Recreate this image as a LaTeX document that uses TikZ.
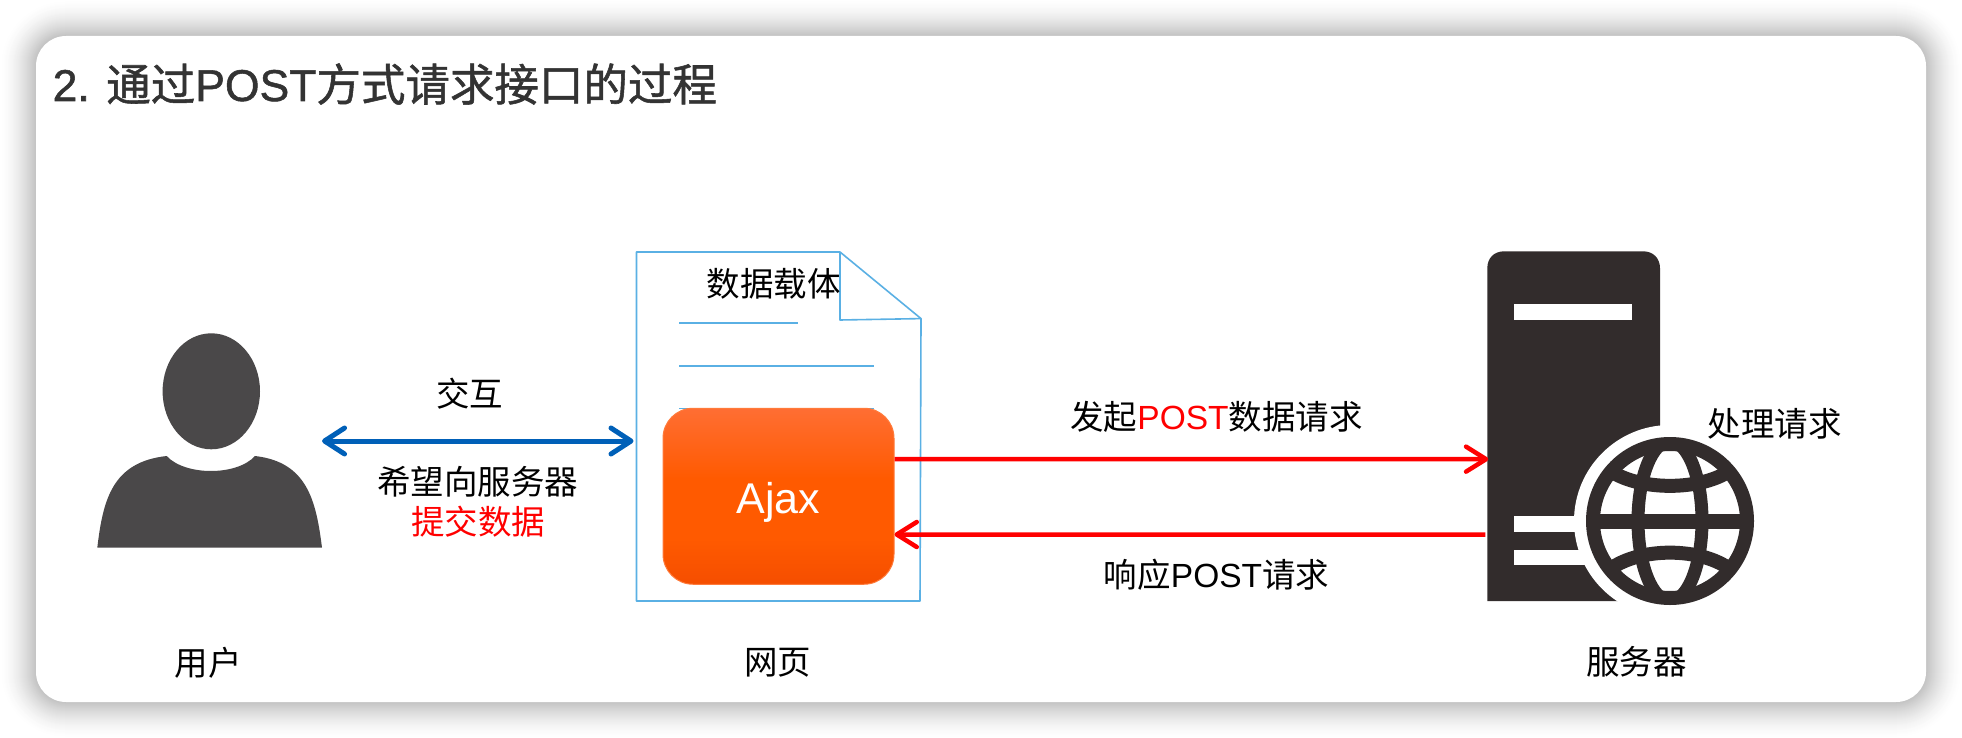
\documentclass[tikz,border=0pt]{standalone}
\usepackage{fontspec}
\setmainfont{Liberation Sans}
\newfontfamily\cjk{Noto Sans CJK SC}
\newfontfamily\cjkb[FakeBold=1.2]{Noto Sans CJK SC}
\newfontfamily\latb[FakeBold=1.2]{Liberation Sans}
\newcommand{\lat}[1]{{\rmfamily #1}}
\usetikzlibrary{arrows.meta}
\definecolor{titlec}{HTML}{333333}
\definecolor{personc}{HTML}{4A4849}
\definecolor{serverc}{HTML}{322C2C}
\definecolor{docc}{HTML}{5AB0E4}
\definecolor{bluea}{HTML}{0060B8}
\definecolor{reda}{HTML}{FF0000}
\definecolor{ajtop}{HTML}{FF6E33}
\definecolor{ajmid}{HTML}{FF5A00}
\definecolor{ajbot}{HTML}{F54E00}
\definecolor{ajedge}{HTML}{FF7A3A}
\pgfdeclareverticalshading{ajaxshade}{100bp}{color(0bp)=(ajbot); color(25bp)=(ajbot); color(38bp)=(ajmid); color(55bp)=(ajmid); color(75bp)=(ajtop); color(100bp)=(ajtop)}
\tikzset{
  lbl/.style={font=\fontsize{33.5}{38}\selectfont\cjk,text=black,inner sep=0pt,anchor=center},
  redlbl/.style={lbl,text=reda},
  ghost/.style={inner sep=0pt,outer sep=0pt,rectangle},
  doline/.style={draw=docc,line width=1.6pt},
  bluearrow/.style={draw=bluea,line width=5pt,line cap=round,{Straight Barb[length=20pt,width=26pt,line width=5pt,round]}-{Straight Barb[length=20pt,width=26pt,line width=5pt,round]}},
  redarrow/.style={draw=reda,line width=4.5pt,-{Straight Barb[length=20pt,width=25pt,line width=4.5pt,round]}},
}
\begin{document}
\begin{tikzpicture}[x=1pt,y=-1pt]
\useasboundingbox (0,0) rectangle (1962,738);
\fill[white] (0,0) rectangle (1962,738);
% soft shadow of the card
\foreach \e in {36,35,...,0}{
  \pgfmathsetmacro{\dk}{24*(1-\e/36)^1.6}
  \fill[black!\dk!white,rounded corners={30pt+\e pt}] ({36-\e},{36-\e}) rectangle ({1926+\e},{702+\e});
}
\fill[white,rounded corners=30pt] (36,36) rectangle (1926,702);
\node[font=\fontsize{44.5}{50}\selectfont,text=titlec,inner sep=0pt,anchor=west] (title) at (52.5,84)
  {\latb 2. {\cjkb 通过}POST{\cjkb 方式请求接口的过程}};
% person
\node[ghost,minimum width=224.7pt,minimum height=215pt] (person) at (209.7,440.5) {};
\fill[personc] (211.3,391.3) ellipse [x radius=48.7pt,y radius=58pt];
\fill[personc] (97.3,547.7) .. controls (103,500) and (112,462) .. (166.7,456)
  .. controls (185,476) and (237,476) .. (255,456)
  .. controls (307,462) and (316,500) .. (322,547.7) -- cycle;
% page
\node[ghost,minimum width=283.5pt,minimum height=349pt] (doc) at (778.25,426.5) {};
\draw[doline,line join=round] (636.5,252) -- (840,252) -- (921,318.6) -- (920,601) -- (636.5,601) -- cycle;
\draw[doline,line join=round] (840,252) -- (840,320) -- (921,318.6);
\draw[doline] (679,323) -- (798,323);
\draw[doline] (679,366) -- (874,366);
\draw[doline] (679,408.5) -- (874,408.5);
% ajax
\node[draw=ajedge,line width=1pt,rounded corners=30pt,minimum width=231pt,minimum height=176pt,inner sep=0pt,
  shading=ajaxshade,text=white,font=\fontsize{43}{48}\selectfont] (ajax) at (778.5,496.25) {\raisebox{-17pt}[0pt][0pt]{Ajax}};
% server
\node[ghost,minimum width=172.7pt,minimum height=349.7pt] (srv) at (1573.65,426.15) {};
\fill[serverc] (1487.3,601) -- (1487.3,268.3) .. controls (1487.3,258) and (1494,251.3) .. (1504.3,251.3)
  -- (1643,251.3) .. controls (1653,251.3) and (1660,258) .. (1660,268.3) -- (1660,601) -- cycle;
\fill[white] (1514,303.7) rectangle (1631.7,320.3);
\fill[white] (1514,515.7) rectangle (1630,532);
\fill[white] (1514,550) rectangle (1630,565);
\fill[white] (1670,521) circle (96pt);
% globe
\fill[white] (1670,521) circle (84pt);
\begin{scope}
  \clip (1670,521) circle (80pt);
  \draw[serverc,line width=13pt] (1670,521) ellipse [x radius=32pt,y radius=80pt];
  \draw[serverc,line width=15pt] (1586,521) -- (1754,521);
  \draw[serverc,line width=14pt] (1606.7,468.3) .. controls (1636.7,491.7) and (1703.3,491.7) .. (1733.3,468.3);
  \draw[serverc,line width=14pt] (1606.7,571.7) .. controls (1636.7,546.3) and (1703.3,546.3) .. (1733.3,571.7);
\end{scope}
\draw[serverc,line width=14pt] (1670,521) circle (77pt);
% connectors
\draw[bluearrow] ([yshift=-0.5pt]person.east) -- ([xshift=-3pt,yshift=-14.5pt]doc.west);
\draw[redarrow] ([yshift=37.25pt]ajax.east) -- ([yshift=-33pt,xshift=1pt]srv.west);
\draw[redarrow] ([yshift=-108.5pt,xshift=-2pt]srv.west) -- ([yshift=-38.25pt]ajax.east);
% labels
\node[lbl] (carrier) at (773.5,284) {数据载体};
\node[lbl] (inter) at (469.5,394) {交互};
\node[lbl] (wish) at (477.5,482) {希望向服务器};
\node[redlbl] (submit) at (478,522) {提交数据};
\node[lbl] (user) at (208,663) {用户};
\node[lbl] (page) at (777.5,663) {网页};
\node[lbl] (send) at (1216.5,416.5) {发起{\lat{\color{reda}POST}}数据请求};
\node[lbl] (resp) at (1216.5,574.5) {响应\lat{POST}请求};
\node[lbl] (server) at (1636.5,661.5) {服务器};
\node[lbl] (proc) at (1774.5,424) {处理请求};
\end{tikzpicture}
\end{document}
